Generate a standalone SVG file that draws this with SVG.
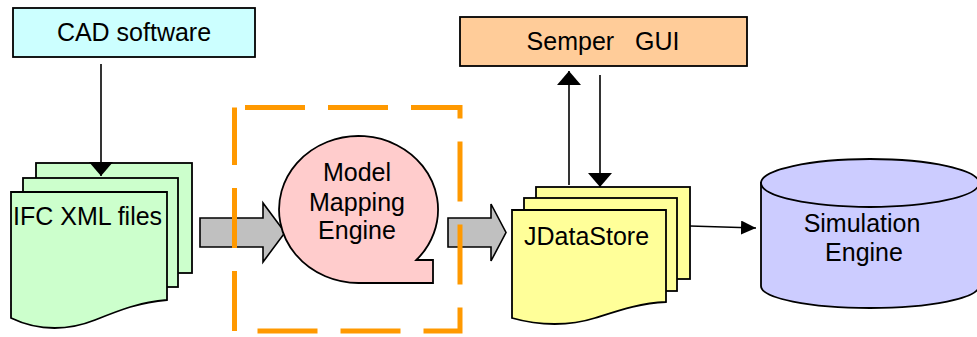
<svg xmlns="http://www.w3.org/2000/svg" width="977" height="337" viewBox="0 0 977 337">
<defs>
<style>
.lbl{font-family:"Liberation Sans",Arial,sans-serif;font-size:25px;fill:#000;}
.shp{stroke:#000;stroke-width:1.8;}
.con{stroke:#000;stroke-width:1.6;fill:none;}
.big{fill:#C0C0C0;stroke:#000;stroke-width:1.6;}
</style>
<marker id="ahV" viewBox="0 0 14 24" refX="14" refY="12" markerWidth="14" markerHeight="24" markerUnits="userSpaceOnUse" orient="auto">
<path d="M0,0 L14,12 L0,24 Z" fill="#000"/>
</marker>
<marker id="ahH" viewBox="0 0 15 14" refX="15" refY="7" markerWidth="15" markerHeight="14" markerUnits="userSpaceOnUse" orient="auto">
<path d="M0,0 L15,7 L0,14 Z" fill="#000"/>
</marker>
</defs>
<rect width="977" height="337" fill="#fff"/>

<g id="cad">
<rect class="shp" x="13" y="8" width="242" height="49" fill="#CCFFFF"/>
<text class="lbl" x="134" y="41" text-anchor="middle">CAD software</text>
</g>

<g id="semper">
<rect class="shp" x="460" y="17" width="287" height="49" fill="#FFCC99"/>
<text class="lbl" x="603" y="50" text-anchor="middle" style="white-space:pre">Semper   GUI</text>
</g>

<g id="ifc">
<rect class="shp" x="36" y="163" width="156" height="110" fill="#CCFFCC"/>
<rect class="shp" x="23" y="178" width="155" height="109" fill="#CCFFCC"/>
<path class="shp" d="M11,192 H167 V300 C140,302 120,310 95,320 C70,330 40,332 11,318 Z" fill="#CCFFCC"/>
<text class="lbl" x="13" y="225">IFC XML files</text>
</g>

<g id="jdatastore">
<rect class="shp" x="536" y="187" width="154" height="92" fill="#FFFF99"/>
<rect class="shp" x="524" y="198" width="153" height="93" fill="#FFFF99"/>
<path class="shp" d="M512,210 H666 V302 C640,303 620,310 595,318 C570,326 540,326 512,318 Z" fill="#FFFF99"/>
<text class="lbl" x="524" y="245">JDataStore</text>
</g>

<g id="connectors">
<polygon class="big" points="200,218 263,218 263,203 285,232.5 263,262 263,247 200,247"/>
<polygon class="big" points="448,218 491,218 491,204 506,232.5 491,261 491,247 448,247"/>
<line class="con" x1="101" y1="64" x2="101" y2="176" marker-end="url(#ahV)"/>
<line class="con" x1="569" y1="185" x2="569" y2="71" marker-end="url(#ahV)"/>
<line class="con" x1="600" y1="75" x2="600" y2="187" marker-end="url(#ahV)"/>
<line class="con" x1="690" y1="226" x2="756" y2="228" marker-end="url(#ahH)"/>
</g>

<g id="mapping">
<path class="shp" d="M358.5,283 A79.5,73.5 0 1 1 416.3,260 L433,260 L433,283 Z" fill="#FFCCCC"/>
<text class="lbl" x="357" y="181" text-anchor="middle">Model</text>
<text class="lbl" x="357" y="211" text-anchor="middle">Mapping</text>
<text class="lbl" x="357" y="239" text-anchor="middle">Engine</text>
</g>

<g id="simulation">
<path class="shp" d="M761,183 V286 A109,22 0 0 0 979,286 V183 Z" fill="#CCCCFF"/>
<ellipse class="shp" cx="870" cy="183" rx="109" ry="24" fill="#CCCCFF"/>
<text class="lbl" x="862" y="232" text-anchor="middle">Simulation</text>
<text class="lbl" x="864" y="261" text-anchor="middle">Engine</text>
</g>

<g id="boundary">
<path d="M245,107.5 H460 V331 H234.5 V107.5" fill="none" stroke="#FF9900" stroke-width="5" stroke-dasharray="60 23"/>
</g>
</svg>
